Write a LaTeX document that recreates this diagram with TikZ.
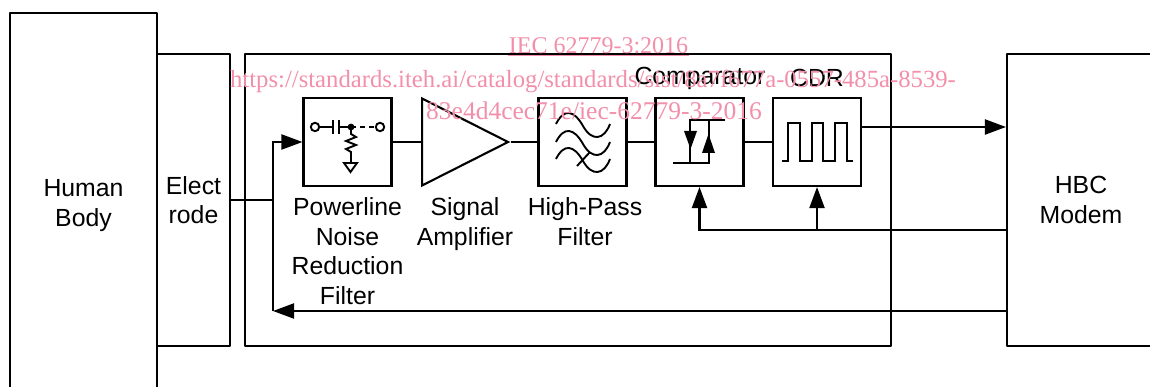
\documentclass[tikz,border=0pt]{standalone}
\usepackage{fontspec}
\setmainfont{Liberation Sans}
\newfontfamily\markfont{Liberation Serif}
\usetikzlibrary{arrows.meta,positioning,calc,shapes.geometric}
\definecolor{markpink}{HTML}{F28FAB}

\begin{document}
\begin{tikzpicture}[
  x=1pt, y=-1pt,
  >={Triangle[length=21pt,width=15pt]},
  every node/.style={font=\fontsize{24.8}{29.5}\selectfont},
  line width=2.1pt,
  tallbox/.style={draw, line join=round, inner sep=0pt, align=center},
  block/.style={draw, minimum width=88pt, minimum height=88pt, inner sep=0pt},
  caption/.style={align=center, inner sep=0pt},
  watermark/.style={text=markpink, inner sep=0pt},
  icon/.style={line width=1.9pt},
]
  \useasboundingbox (0,0) rectangle (1150,387);

  \node[tallbox, minimum width=147pt, minimum height=400pt] (body) at (83.5, 213) {};
  \node at (83.5, 205.5) [caption] (bodytext) {Human\\Body};
  \node[tallbox, minimum width=73pt, minimum height=292pt] (electrode) at (193.5, 200) {};
  \node[caption] (electrodetext) at (193.5, 200) {Elect\\rode};
  \node[tallbox, minimum width=646pt, minimum height=292pt] (rx) at (568, 200) {};
  \node[tallbox, minimum width=200pt, minimum height=292pt] (modem) at (1107, 200) {};
  \node[caption] (modemtext) at (1081, 200) {HBC\\Modem};

  \node[block] (pnr) at (347.5, 142) {};
  \node[draw, isosceles triangle, isosceles triangle stretches, inner sep=0pt,
    minimum width=87pt, minimum height=86pt, anchor=lower side] (amp) at (421, 142) {};
  \node[block] (hpf) at (582.5, 142) {};
  \node[block] (comp) at (699.5, 142) {};
  \node[block] (cdr) at (817, 142) {};

  \node[caption, anchor=north] (pnrtext) at (347.5, 196.5) {Powerline\\Noise\\Reduction\\Filter};
  \node[caption, anchor=north] (amptext) at (465, 196.5) {Signal\\Amplifier};
  \node[caption, anchor=north] (hpftext) at (585, 196.5) {High-Pass\\Filter};
  \node[caption] (comptext) at (700, 78) {Comparator};
  \node[caption] (cdrtext) at (817, 78) {CDR};

  % signal path
  \coordinate (split) at (273, 200);
  \coordinate (txend) at (273, 311);
  \coordinate (fbcomp) at (comp.south |- 0,230);
  \coordinate (fbcdr) at (cdr.south |- 0,230);
  \draw (electrode.east |- split) -- (split);
  \draw[->] (split) |- (pnr.west);
  \draw (pnr.east) -- (amp.lower side);
  \draw (amp.apex) -- (hpf.west);
  \draw (hpf.east) -- (comp.west);
  \draw (comp.east) -- (cdr.west);
  \draw[->] (cdr.east |- 0,127) -- (modem.west |- 0,127);
  \draw[->] (modem.west |- 0,230) -- (fbcomp) -- (comp.south);
  \draw[->] (fbcdr) -- (cdr.south);
  \draw (split) -- (txend);
  \draw[->] (modem.west |- txend) -- (txend);

  % powerline filter icon
  \begin{scope}[icon]
    \draw (315, 127) circle (4.2pt);
    \draw (319.2, 127) -- (333, 127) (333, 120) -- (333, 134);
    \draw (339, 120) -- (339, 134) (339, 127) -- (351, 127);
    \fill (351, 127) circle (3.4pt);
    \draw[dash pattern=on 5pt off 4pt] (351, 127) -- (375, 127);
    \draw (380, 127) circle (4.2pt);
    \draw (351, 127) -- (351, 134) -- (356, 137) -- (346, 141) -- (356, 145)
      -- (346, 149) -- (351, 152) -- (351, 163);
    \draw (344, 163) -- (357, 163) -- (350.5, 172) -- cycle;
  \end{scope}

  % high-pass icon
  \begin{scope}[icon]
    \foreach \yy in {0, 18, 35} {
      \draw (556, 124+\yy) .. controls (564, 108+\yy) and (574, 110+\yy) .. (583, 126+\yy)
        .. controls (592, 142+\yy) and (604, 140+\yy) .. (610, 124+\yy);
    }
    \draw (577, 166) -- (590, 152);
  \end{scope}

  % comparator icon
  \begin{scope}[icon]
    \draw (725, 120) -- (690, 120) -- (690, 163);
    \draw (673, 163) -- (709, 163) -- (709, 120);
    \fill (684, 131) -- (697, 131) -- (690.5, 149) -- cycle;
    \fill (702, 153) -- (715, 153) -- (708.5, 134) -- cycle;
  \end{scope}

  % clock icon
  \draw[icon] (782, 161) -- (788, 161) -- (788, 123) -- (800, 123) -- (800, 161)
    -- (812, 161) -- (812, 123) -- (823, 123) -- (823, 161) -- (835, 161)
    -- (835, 123) -- (847, 123) -- (847, 161) -- (853, 161);

  \node[watermark, font=\fontsize{24}{24}\selectfont\markfont] (mark1) at (598.5, 45.5) {IEC 62779-3:2016};
  \draw[markpink, line width=1.6pt] ($(mark1.south west)+(0,1)$) -- ($(mark1.south east)+(0,1)$);
  \node[watermark, font=\fontsize{24.7}{24.7}\selectfont\markfont] (mark2) at (593, 81) {https://standards.iteh.ai/catalog/standards/sist/8a7f677a-0557-485a-8539-};
  \node[watermark, font=\fontsize{25.5}{25.5}\selectfont\markfont] (mark3) at (594, 111) {83e4d4cec71e/iec-62779-3-2016};
\end{tikzpicture}
\end{document}
